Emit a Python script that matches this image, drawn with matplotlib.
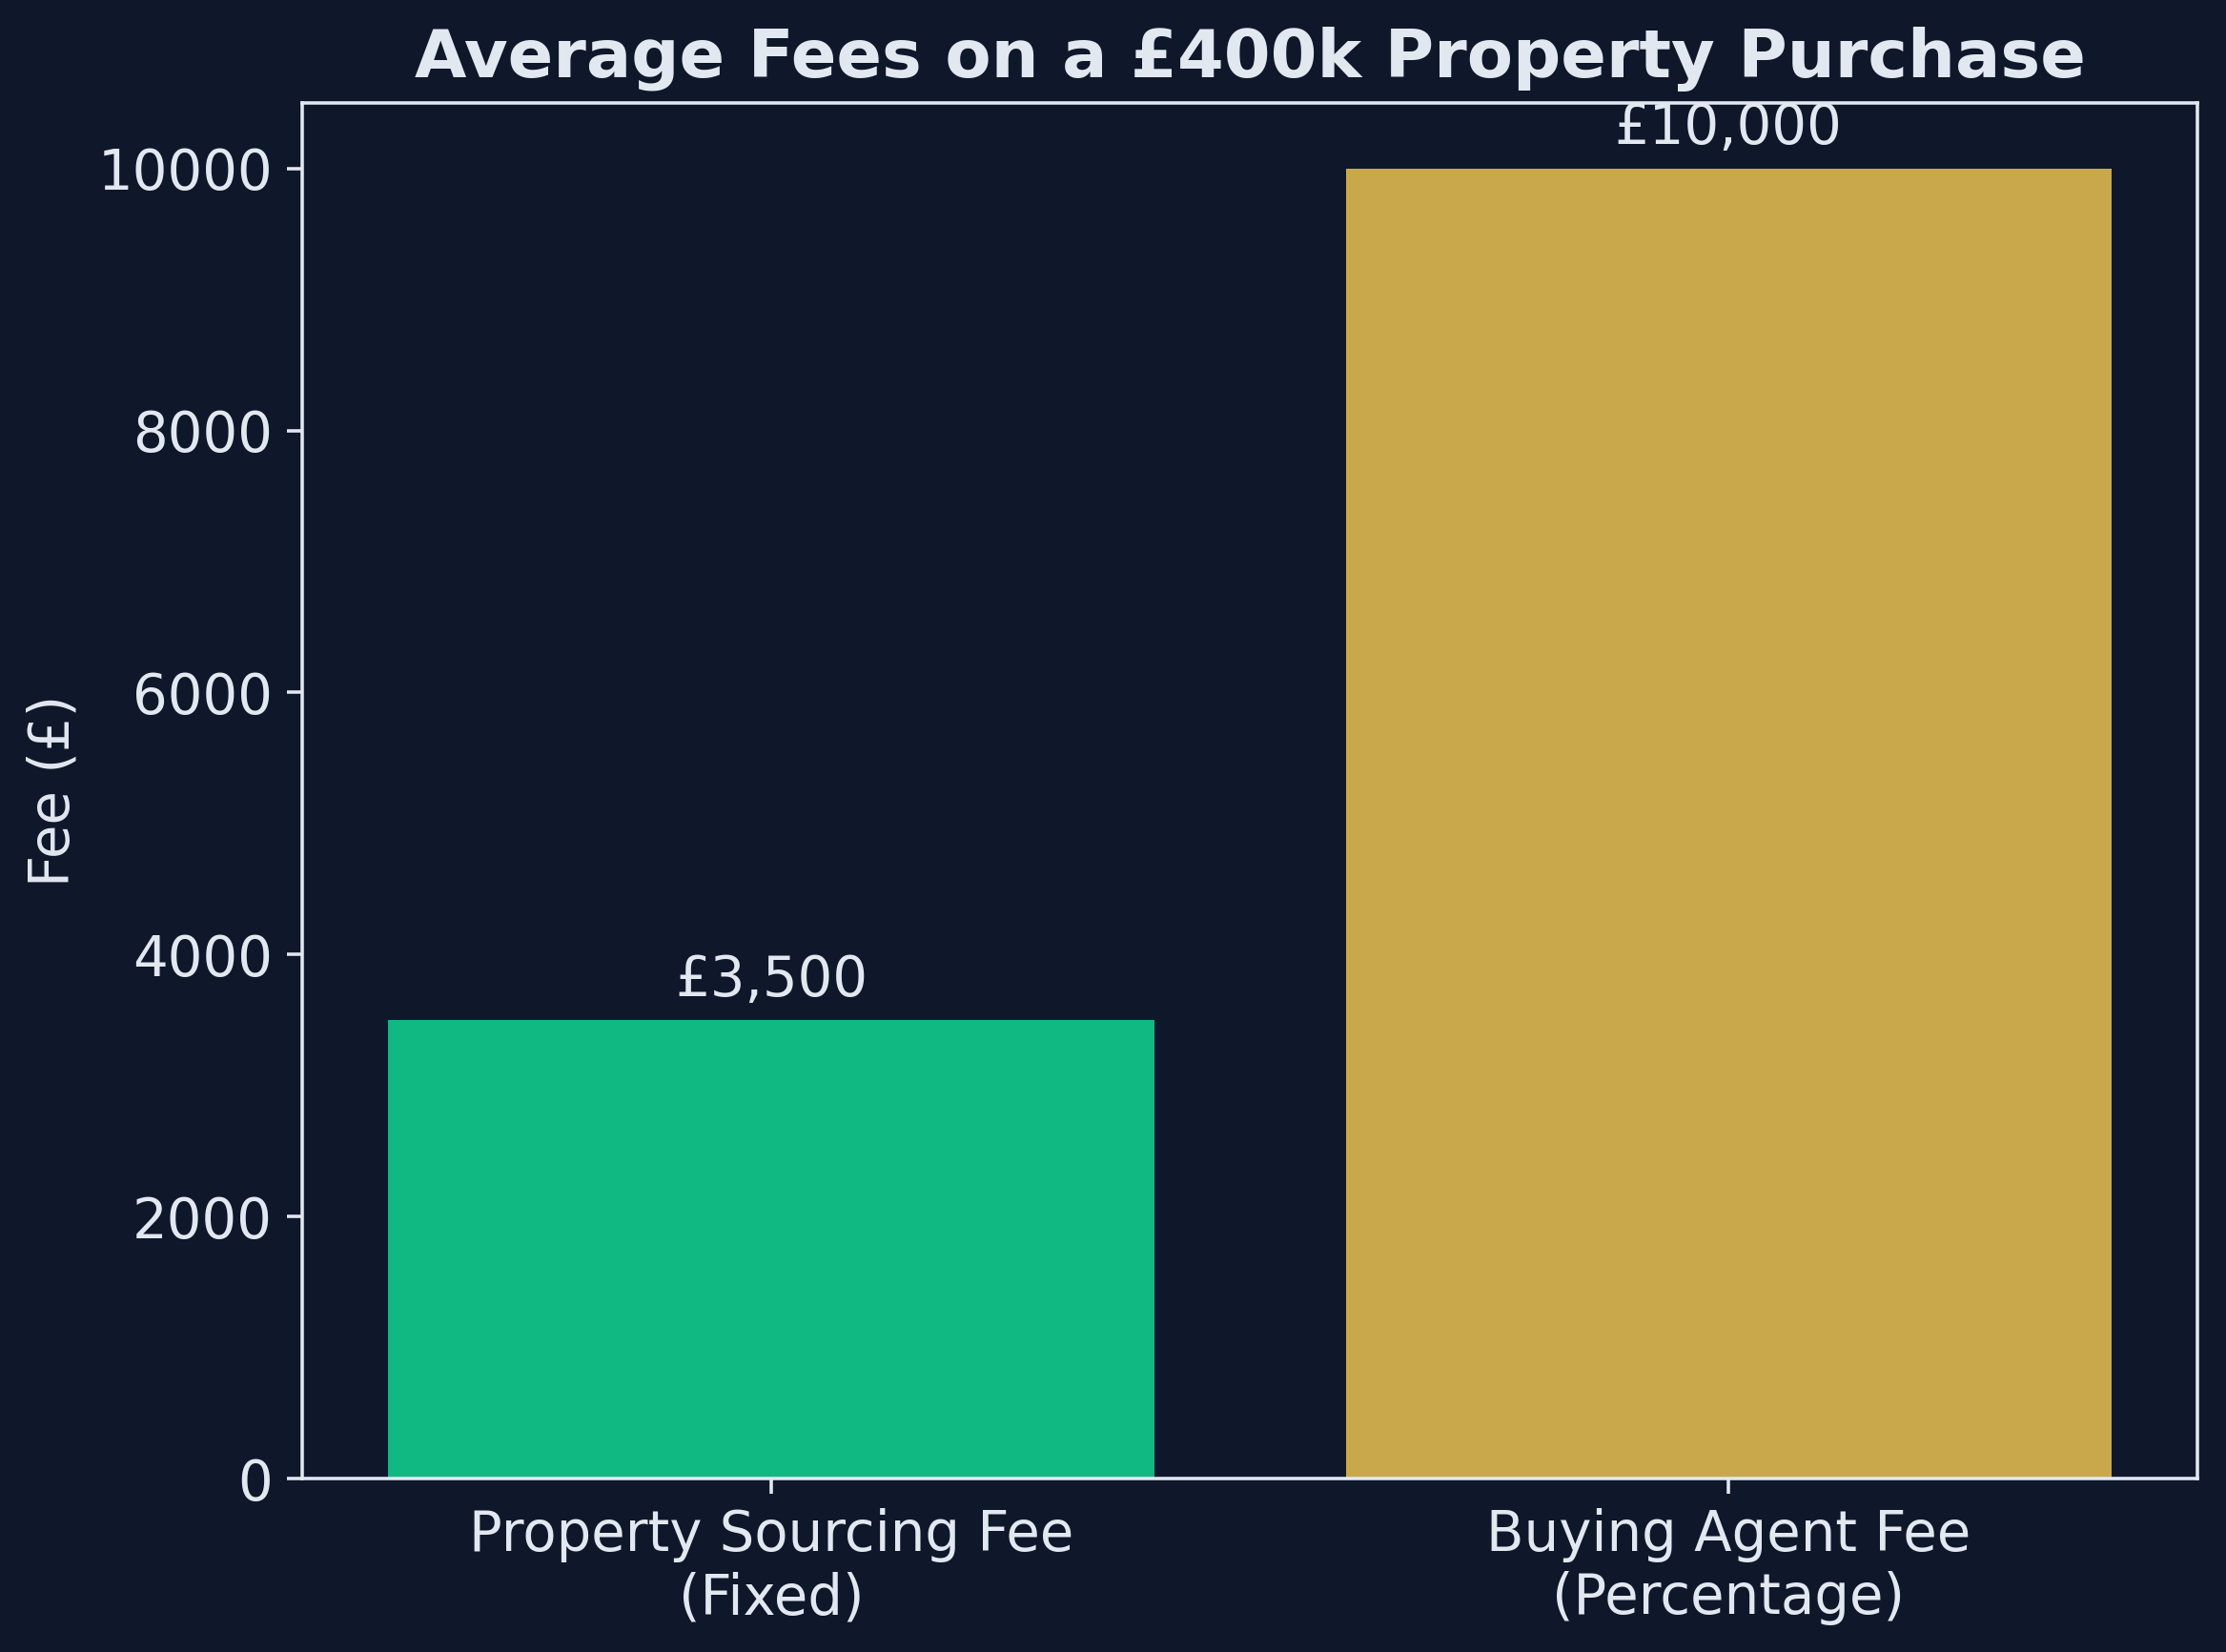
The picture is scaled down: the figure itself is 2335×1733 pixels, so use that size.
import matplotlib
matplotlib.use("Agg")
import matplotlib.pyplot as plt

categories = ["Property Sourcing Fee\n(Fixed)", "Buying Agent Fee\n(Percentage)"]
fees = [3500, 10000]
labels = ["£3,500", "£10,000"]
colors = ["#10b981", "#c9a84c"]

bg = "#0f172a"
fg = "#e2e8f0"

plt.rcParams['font.family'] = ['DejaVu Sans']
DPI = 320
fig = plt.figure(figsize=(2335 / DPI, 1733 / DPI), dpi=DPI)
fig.patch.set_facecolor(bg)
ax = fig.add_axes([0.1358, 0.105, 0.9872 - 0.1358, 0.9377 - 0.105])
ax.set_facecolor(bg)

bars = ax.bar(categories, fees, color=colors, width=0.8)
for b, lab in zip(bars, labels):
    ax.annotate(lab, (b.get_x() + b.get_width() / 2, b.get_height()),
                xytext=(0, 3), textcoords="offset points",
                ha="center", va="bottom", fontsize=13, color=fg)

ax.set_title("Average Fees on a £400k Property Purchase", fontsize=15.8,
             fontweight="bold", color=fg)
ax.set_ylabel("Fee (£)", fontsize=13, color=fg)
ax.tick_params(colors=fg, labelsize=13)
for s in ax.spines.values():
    s.set_color(fg)

fig.savefig("out.png", dpi=DPI, facecolor=bg)
